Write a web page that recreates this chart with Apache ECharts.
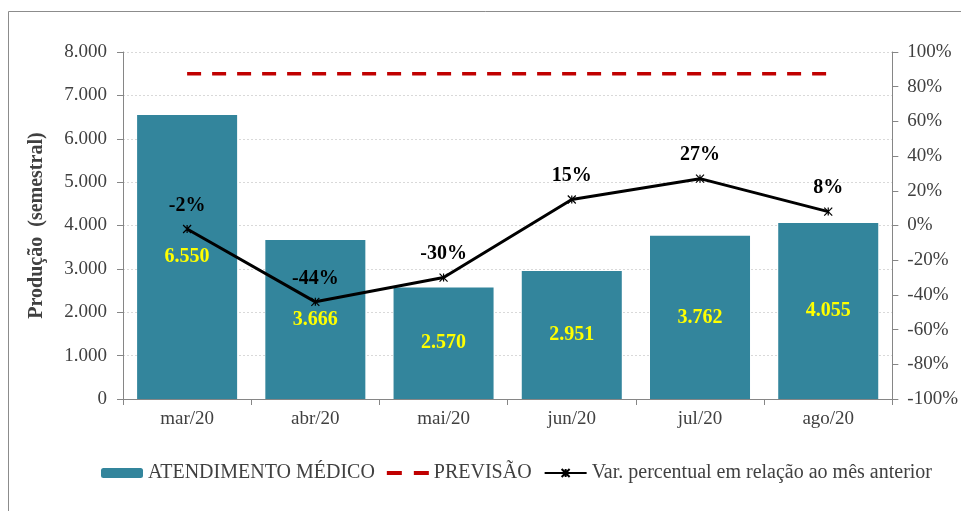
<!DOCTYPE html>
<html>
<head>
<meta charset="utf-8">
<script src="https://cdn.jsdelivr.net/npm/echarts@6/dist/echarts.min.js"></script>
<style>
  html, body { margin: 0; padding: 0; background: #fff; }
  #main { width: 961px; height: 511px; }
</style>
</head>
<body>
<div id="main"></div>
<script>
var meses = ['mar/20', 'abr/20', 'mai/20', 'jun/20', 'jul/20', 'ago/20'];
var atendimento = [6550, 3666, 2570, 2951, 3762, 4055];
var previsao = [7500, 7500, 7500, 7500, 7500, 7500];
var variacao = [-2, -44, -30, 15, 27, 8];

var fonte = 'Liberation Serif';
var cinza = '#404040';

function milhar(v) {
  return String(v).replace(/\B(?=(\d{3})+(?!\d))/g, '.');
}

var chart = echarts.init(document.getElementById('main'));

var option = {
  backgroundColor: '#fff',
  textStyle: { fontFamily: fonte },
  graphic: [{
    type: 'rect',
    shape: { x: 8.5, y: 11.5, width: 1000, height: 600 },
    style: { fill: 'none', stroke: '#8c8c8c', lineWidth: 1 }
  }],
  grid: { left: 123, right: 68, top: 52, bottom: 112 },
  legend: {
    left: 96,
    top: 458,
    itemWidth: 42,
    itemHeight: 10,
    itemGap: 12,
    textStyle: { fontFamily: fonte, fontSize: 20, color: cinza },
    data: [
      { name: 'ATENDIMENTO MÉDICO' },
      // dois traços vermelhos, como na legenda do Excel
      { name: 'PREVISÃO', icon: 'path://M0,0h15v4h-15zM27,0h15v4h-15z' },
      { name: 'Var. percentual em relação ao mês anterior' }
    ]
  },
  xAxis: {
    type: 'category',
    data: meses,
    axisLine: { lineStyle: { color: '#868686', width: 1 } },
    axisTick: { show: true, length: 6, lineStyle: { color: '#868686' } },
    axisLabel: { fontFamily: fonte, fontSize: 19, color: cinza, margin: 11 }
  },
  yAxis: [{
    type: 'value',
    min: 0,
    max: 8000,
    interval: 1000,
    name: 'Produção  (semestral)',
    nameLocation: 'middle',
    nameGap: 76,
    nameTextStyle: { fontFamily: fonte, fontSize: 20, fontWeight: 'bold', color: cinza },
    axisLine: { show: true, lineStyle: { color: '#868686' } },
    axisTick: { show: true, length: 6, lineStyle: { color: '#868686' } },
    axisLabel: { fontFamily: fonte, fontSize: 19, color: cinza, margin: 16, formatter: milhar },
    splitLine: { lineStyle: { color: '#d9d9d9', type: [2, 2] } }
  }, {
    type: 'value',
    min: -100,
    max: 100,
    interval: 20,
    position: 'right',
    axisLine: { show: true, lineStyle: { color: '#868686' } },
    axisTick: { show: true, length: 6, lineStyle: { color: '#868686' } },
    axisLabel: { fontFamily: fonte, fontSize: 19, color: cinza, margin: 15, formatter: '{value}%' },
    splitLine: { show: false }
  }],
  series: [{
    name: 'ATENDIMENTO MÉDICO',
    type: 'bar',
    data: atendimento,
    barCategoryGap: '22%',
    itemStyle: { color: '#33859c' },
    label: {
      show: true,
      position: 'inside',
      fontFamily: fonte,
      fontSize: 20,
      fontWeight: 'bold',
      color: '#ffff00',
      formatter: function (p) { return milhar(p.value); }
    }
  }, {
    name: 'PREVISÃO',
    type: 'line',
    data: previsao,
    symbol: 'none',
    lineStyle: { color: '#c00000', width: 3.5, type: [14, 11] },
    itemStyle: { color: '#c00000' }
  }, {
    name: 'Var. percentual em relação ao mês anterior',
    type: 'line',
    yAxisIndex: 1,
    data: variacao,
    symbol: 'path://M0,0L10,10M10,0L0,10M5,0L5,10',
    symbolSize: 8,
    lineStyle: { color: '#000', width: 3 },
    itemStyle: { color: 'none', borderColor: '#000', borderWidth: 1.2 },
    label: {
      show: true,
      position: 'top',
      distance: 7,
      fontFamily: fonte,
      fontSize: 20,
      fontWeight: 'bold',
      color: '#000',
      formatter: '{c}%'
    },
    z: 5
  }]
};

chart.setOption(option);
</script>
</body>
</html>
